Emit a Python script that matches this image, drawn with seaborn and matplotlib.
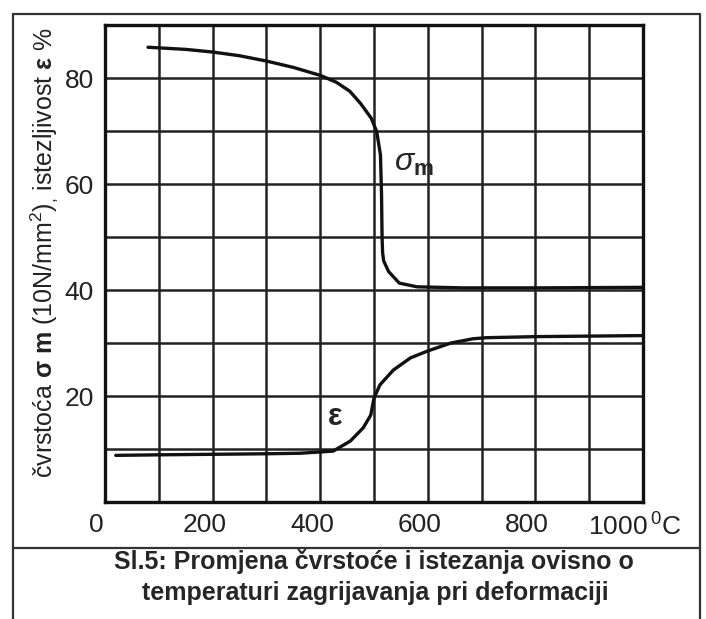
import matplotlib
matplotlib.use('agg')
import matplotlib.pyplot as plt
import matplotlib.transforms as mtransforms
from matplotlib.lines import Line2D
import seaborn as sns
import pandas as pd

# values
sigma_temp = [80, 150, 200, 250, 300, 350, 400, 430, 455, 475, 495, 505, 512, 514,
              515, 516, 518, 527, 547, 580, 665, 800, 1000]
sigma_vals = [85.8, 85.4, 84.9, 84.2, 83.2, 82.0, 80.5, 79.2, 77.5, 75.2, 72.4, 69.9,
              65.5, 58.0, 50.0, 47.0, 45.5, 43.5, 41.3, 40.6, 40.4, 40.4, 40.5]

eps_temp = [20, 100, 200, 300, 363, 424, 456, 480, 494, 500, 511, 536, 568, 600,
            643, 684, 709, 800, 900, 1000]
eps_vals = [8.8, 8.9, 9.0, 9.1, 9.2, 9.6, 11.5, 14.0, 16.4, 19.6, 22.1, 24.9, 27.2,
            28.5, 30.0, 30.8, 31.0, 31.2, 31.3, 31.4]

x_ticks = [0, 200, 400, 600, 800, 1000]
x_labels = ['0', '200', '400', '600', '800', '1000$\\,^{0}$C']
y_ticks = [20, 40, 60, 80]

sns.set_style('white')
plt.rcParams['font.family'] = ['Liberation Sans', 'DejaVu Sans']
plt.rcParams['mathtext.fontset'] = 'custom'
plt.rcParams['mathtext.rm'] = 'Liberation Sans'
plt.rcParams['mathtext.it'] = 'Liberation Sans:italic'
plt.rcParams['mathtext.bf'] = 'Liberation Sans:bold'

fig = plt.figure(figsize=(7.06, 6.19), dpi=100)
ax = fig.add_axes([105 / 706, 117 / 619, 538 / 706, 477 / 619])

sigma_df = pd.DataFrame({'T': sigma_temp, 'v': sigma_vals})
eps_df = pd.DataFrame({'T': eps_temp, 'v': eps_vals})
sns.lineplot(data=sigma_df, x='T', y='v', ax=ax, color='#111111', lw=2.4, sort=False, zorder=5)
sns.lineplot(data=eps_df, x='T', y='v', ax=ax, color='#111111', lw=2.4, sort=False, zorder=5)

ax.set_xlim(0, 1000)
ax.set_ylim(0, 90)
ax.set_xticks(x_ticks)
ax.set_xticklabels(x_labels)
ax.set_yticks(y_ticks)
ax.set_xticks(range(0, 1001, 100), minor=True)
ax.set_yticks(range(0, 91, 10), minor=True)
ax.grid(which='both', color='#222222', lw=1.8)
ax.tick_params(which='both', length=0, labelsize=19, pad=8, labelcolor='#222222')
for spine in ax.spines.values():
    spine.set_linewidth(2.4)
    spine.set_color('#111111')
ax.set_xlabel('')
ax.set_ylabel('')

shift = mtransforms.ScaledTranslation(-6 / 72, 0, fig.dpi_scale_trans)
for lab in ax.get_xticklabels():
    lab.set_transform(lab.get_transform() + shift)

ax.text(538, 64, '$\\sigma_{\\mathbf{m}}$', fontsize=23, ha='left', va='center', zorder=6)
ax.text(428, 16, '$\\mathbf{\\varepsilon}$', fontsize=22, ha='center', va='center', zorder=6)

fig.text(44 / 706, 1 - 253 / 619,
         'čvrstoća $\\mathbf{\\sigma\\ m}$ (10N/mm$^2$)$_{,}$ istezljivost $\\mathbf{\\varepsilon}$ %',
         rotation=90, ha='center', va='center', fontsize=18, color='#222222')

# outer frame and caption box
fig.add_artist(Line2D([13 / 706, 13 / 706], [0, 1 - 14 / 619], color='#333333', lw=1.6))
fig.add_artist(Line2D([700 / 706, 700 / 706], [0, 1 - 14 / 619], color='#333333', lw=1.6))
fig.add_artist(Line2D([13 / 706, 700 / 706], [1 - 14 / 619, 1 - 14 / 619], color='#333333', lw=1.6))
fig.add_artist(Line2D([13 / 706, 700 / 706], [1 - 548 / 619, 1 - 548 / 619], color='#333333', lw=1.6))

fig.text(374 / 706, 1 - 569 / 619, 'Sl.5: Promjena čvrstoće i istezanja ovisno o',
         ha='center', va='baseline', fontsize=18, fontweight='bold')
fig.text(375 / 706, 1 - 600 / 619, 'temperaturi zagrijavanja pri deformaciji',
         ha='center', va='baseline', fontsize=18, fontweight='bold')

fig.savefig('out.png', dpi=100)
